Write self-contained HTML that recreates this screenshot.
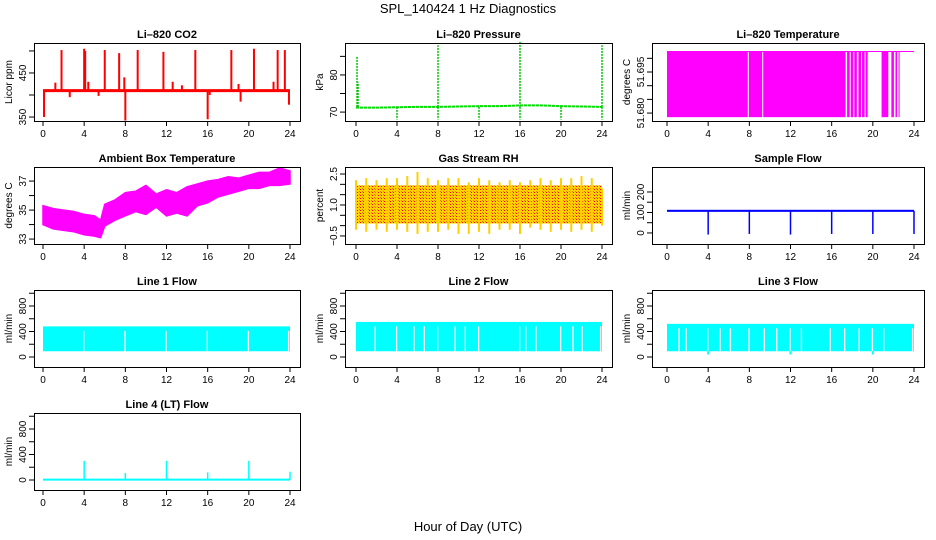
<!DOCTYPE html>
<html><head><meta charset="utf-8"><style>
html,body{margin:0;padding:0;background:#fff}
svg{display:block;font-family:"Liberation Sans",sans-serif}
</style></head><body>
<svg id="chart" width="936" height="540" viewBox="0 0 936 540" xmlns="http://www.w3.org/2000/svg">
<defs>
<pattern id="rhpat" width="3" height="3" patternUnits="userSpaceOnUse"><rect width="3" height="3" fill="#ffd200"/><rect width="1" height="1" fill="#f00"/><rect x="2" y="2" width="1" height="1" fill="#f07000"/></pattern>
</defs>
<text x="468" y="13" text-anchor="middle" font-size="13">SPL_140424  1 Hz Diagnostics</text>
<text x="468" y="531" text-anchor="middle" font-size="13">Hour of Day (UTC)</text>
</svg>
<script>
// ---------- data ----------
const xTicks = [0,4,8,12,16,20,24];
// CO2
const co2Base = 410;
const co2SpikeHours = [0.1,1.2,1.8,2.6,4.0,4.1,4.4,5.4,6.0,7.4,7.9,8.0,9.2,11.0,11.7,12.6,13.5,14.8,16.0,16.2,18.3,19.0,19.2,20.5,21.0,22.4,22.8,23.5,23.9];
const co2SpikeVals  = [350,428,502,395,505,500,430,398,502,495,440,342,502,412,498,430,422,502,345,400,502,425,385,505,412,430,502,502,378];
// Pressure
const presBase = [71.2,71.2,71.3,71.4,71.4,71.5,71.6,71.6,71.8,71.8,71.6,71.5,71.4];
const presSpikeHours = [0.1,0.2,4.0,8.0,8.0,12.0,16.0,16.0,20.0,24.0,24.0];
const presSpikeVals  = [85,78,68,88,68,68,89,68,68,88,68];
// Li-820 temperature segments [start,end] of dense fill
const tempSegStart = [0.0,7.95,9.35,17.5,17.85,18.2,18.6,18.95,19.3,20.85,21.8,22.2,22.5];
const tempSegEnd   = [7.85,9.25,17.35,17.75,18.1,18.45,18.85,19.2,19.5,21.5,22.05,22.35,22.6];
const tempLow = 51.6785, tempHigh = 51.7025;
// Ambient box temperature (hourly envelope)
const ambHours = [0,1,2,3,4,5,5.6,6,7,8,9,10,11,12,13,14,15,16,17,18,19,20,21,22,23,24];
const ambLow  = [34.0,33.7,33.6,33.5,33.3,33.2,33.1,33.9,34.3,34.6,34.9,34.7,35.2,34.6,34.8,34.6,35.3,35.5,35.9,36.1,36.3,36.5,36.5,36.7,36.7,36.8];
const ambHigh = [35.3,35.1,35.0,34.9,34.7,34.6,34.3,35.4,35.7,36.2,36.3,36.7,36.1,36.4,36.2,36.6,36.8,37.0,37.1,37.3,37.2,37.4,37.6,37.6,37.9,37.7];
// Gas stream RH
const rhHours = [0,1,2,3,4,5,6,7,8,9,10,11,12,13,14,15,16,17,18,19,20,21,22,23,24];
const rhLow  = [-0.2,-0.3,-0.2,-0.3,-0.2,-0.3,-0.4,-0.3,-0.3,-0.2,-0.4,-0.4,-0.3,-0.4,-0.2,-0.2,-0.4,-0.1,-0.2,-0.3,-0.2,-0.3,-0.2,-0.3,0.0];
const rhHigh = [2.2,2.3,2.2,2.3,2.3,2.4,2.6,2.3,2.2,2.3,2.3,2.1,2.3,2.2,2.1,2.2,2.1,2.2,2.3,2.2,2.3,2.3,2.4,2.3,1.8];
// Sample flow
const sfBase = 108;
const sfDipHours = [4,8,12,16,20,24];
const sfDipVals  = [-8,-5,-8,-5,-5,-5];
// Line flows: band low/high and gap hours
const l1Low = 90, l1High = 480, l1Gaps = [3.9,7.9,11.9,15.9,19.9,23.8];
const l2Low = 90, l2High = 550, l2Gaps = [1.8,3.9,5.6,6.6,7.9,9.6,10.6,11.9,15.9,16.5,17.5,19.9,21.1,22.0,23.8];
const l3Low = 90, l3High = 520, l3Gaps = [1.1,1.8,3.9,5.1,6.1,7.9,9.4,10.6,11.9,13.0,15.8,17.2,18.6,19.9,21.0,23.8];
const l3DipHours = [4,12,20], l3DipVals = [40,40,40];
// Line 4
const l4Base = 5;
const l4SpikeHours = [4,8,12,16,20,24];
const l4SpikeVals  = [300,110,300,120,300,130];

// ---------- layout ----------
const svg = document.getElementById('chart');
const NS = 'http://www.w3.org/2000/svg';
const cols = [{b0:34,b1:300,x0:43,x1:290},{b0:345,b1:612,x0:356,x1:602},{b0:652,b1:924,x0:667,x1:914}];
const rows = [{t:43,b:121},{t:167,b:244},{t:290,b:367},{t:413,b:490}];
function mk(tag, attrs, parent){ const e=document.createElementNS(NS,tag); for(const k in attrs) e.setAttribute(k,attrs[k]); (parent||svg).appendChild(e); return e; }

function panel(ci, ri, title, ylab, dom, ticks, labels, name){
  const c=cols[ci], r=rows[ri];
  const g = mk('g',{});
  
  
  const X = h => c.x0 + (c.x1-c.x0)*h/24;
  const Y = v => r.b - (r.b-r.t)*(v-dom[0])/(dom[1]-dom[0]);
  const t = mk('text',{x:(c.b0+c.b1)/2,y:r.t-5,'text-anchor':'middle','font-size':'11','font-weight':'bold'},g);
  t.textContent = title;
  
  
  const data = mk('g',{},g);
  
  
  const ax = mk('g',{stroke:'#000','stroke-width':'1'},g);
  
  
  mk('rect',{x:c.b0+.5,y:r.t+.5,width:c.b1-c.b0,height:r.b-r.t,fill:'none'},ax);
  xTicks.forEach(h=>{
    mk('line',{x1:X(h),x2:X(h),y1:r.b,y2:r.b+5},ax);
    const tl = mk('text',{x:X(h),y:r.b+16,'text-anchor':'middle','font-size':'10',stroke:'none'},ax);
    tl.textContent = h;
    
    
  });
  ticks.forEach((v,i)=>{
    const y=Y(v);
    mk('line',{x1:c.b0-5,x2:c.b0,y1:y,y2:y},ax);
    if(labels[i]!==''){
      const tl = mk('text',{x:0,y:0,'text-anchor':'middle','font-size':'10',stroke:'none',transform:`translate(${c.b0-8},${y}) rotate(-90)`},ax);
      tl.textContent = labels[i];
      
      
    }
  });
  const yl = mk('text',{x:0,y:0,'text-anchor':'middle','font-size':'10',transform:`translate(${c.b0-22},${(r.t+r.b)/2}) rotate(-90)`},g);
  yl.textContent = ylab;
  
  
  return {X,Y,g:data};
}
function vline(p,h,v1,v2,col,w){ return mk('line',{x1:p.X(h),x2:p.X(h),y1:p.Y(v1),y2:p.Y(v2),stroke:col,'stroke-width':w||1},p.g); }

// CO2
let p = panel(0,0,'Li\u2013820 CO2','Licor ppm',[341,518],[350,400,450,500],['350','','450',''],'co2');
mk('line',{x1:p.X(0),x2:p.X(24),y1:p.Y(co2Base),y2:p.Y(co2Base),stroke:'#f00','stroke-width':3},p.g);
co2SpikeHours.forEach((h,i)=>{ vline(p,h,co2Base,co2SpikeVals[i],'#f00',2); });

// Pressure
p = panel(1,0,'Li\u2013820 Pressure','kPa',[67.6,88.6],[70,75,80,85],['70','','80',''],'pressure');
let pts = presBase.map((v,i)=>p.X(i*2)+','+p.Y(v)).join(' ');
mk('polyline',{points:pts,fill:'none',stroke:'#00e000','stroke-width':2,'stroke-dasharray':'3 1'},p.g);
presSpikeHours.forEach((h,i)=>{ vline(p,h,71.4,presSpikeVals[i],'#00c000',1.5).setAttribute('stroke-dasharray','2 1'); });

// Li-820 Temperature
p = panel(2,0,'Li\u2013820 Temperature','degrees C',[51.6771,51.7056],[51.680,51.685,51.690,51.695,51.700],['51.680','','','51.695',''],'li820-temp');
tempSegStart.forEach((s,i)=>{
  mk('rect',{x:p.X(s),y:p.Y(tempHigh),width:Math.max(1,p.X(tempSegEnd[i])-p.X(s)),height:p.Y(tempLow)-p.Y(tempHigh),fill:'#f0f'},p.g);
});
mk('line',{x1:p.X(0),x2:p.X(24),y1:p.Y(tempHigh),y2:p.Y(tempHigh),stroke:'#f0f','stroke-width':1},p.g);

// Ambient
p = panel(0,1,'Ambient Box Temperature','degrees C',[32.66,37.97],[33,34,35,36,37],['33','','35','','37'],'ambient-temp');
pts = ambHours.map((h,i)=>p.X(h)+','+p.Y(ambHigh[i])).concat(ambHours.slice().reverse().map((h,j)=>{const i=ambHours.length-1-j;return p.X(h)+','+p.Y(ambLow[i]);})).join(' ');
mk('polygon',{points:pts,fill:'#f0f',stroke:'#f0f','stroke-width':1.5},p.g);

// RH
p = panel(1,1,'Gas Stream RH','percent',[-0.89,2.84],[-0.5,0,0.5,1.0,1.5,2.0,2.5],['\u22120.5','','','1.0','','','2.5'],'gas-rh');
rhHours.forEach((h,i)=>{
  if(i<rhHours.length-1){
    const x=p.X(h), w=p.X(rhHours[i+1])-x;
    mk('rect',{x:x,y:p.Y(1.95),width:w,height:p.Y(0.1)-p.Y(1.95),fill:'url(#rhpat)'},p.g);
  }
  vline(p,h,rhLow[i],rhHigh[i],'#ffd000',2);
});

// Sample flow
p = panel(2,1,'Sample Flow','ml/min',[-54,322],[0,50,100,150,200],['0','','100','','200'],'sample-flow');
mk('rect',{x:p.X(0),y:p.Y(sfBase+5),width:p.X(24)-p.X(0),height:p.Y(sfBase-5)-p.Y(sfBase+5),fill:'#00f'},p.g);
sfDipHours.forEach((h,i)=>{ vline(p,h,sfBase,sfDipVals[i],'#00f',1.5); });

// Line flows
function flow(ci,ri,title,lo,hi,gaps,name){
  const q = panel(ci,ri,title,'ml/min',[-157,1051],[0,200,400,600,800,1000],['0','','400','','800',''],name);
  mk('rect',{x:q.X(0),y:q.Y(hi),width:q.X(24)-q.X(0),height:q.Y(lo)-q.Y(hi),fill:'#0ff'},q.g);
  gaps.forEach(h=>{ mk('rect',{x:q.X(h),y:q.Y(hi-70),width:1.3,height:q.Y(lo)-q.Y(hi-70),fill:'#fff'},q.g); });
  return q;
}
flow(0,2,'Line 1 Flow',l1Low,l1High,l1Gaps,'line1-flow');
flow(1,2,'Line 2 Flow',l2Low,l2High,l2Gaps,'line2-flow');
p = flow(2,2,'Line 3 Flow',l3Low,l3High,l3Gaps,'line3-flow');
l3DipHours.forEach((h,i)=>{ vline(p,h,l3Low,l3DipVals[i],'#0ff',2); });

// Line 4
p = panel(0,3,'Line 4 (LT) Flow','ml/min',[-157,1051],[0,200,400,600,800,1000],['0','','400','','800',''],'line4-flow');
mk('line',{x1:p.X(0),x2:p.X(24),y1:p.Y(l4Base),y2:p.Y(l4Base),stroke:'#0ff','stroke-width':2},p.g);
l4SpikeHours.forEach((h,i)=>{ vline(p,h,l4Base,l4SpikeVals[i],'#0ff',1.5); });
</script>
</body></html>
